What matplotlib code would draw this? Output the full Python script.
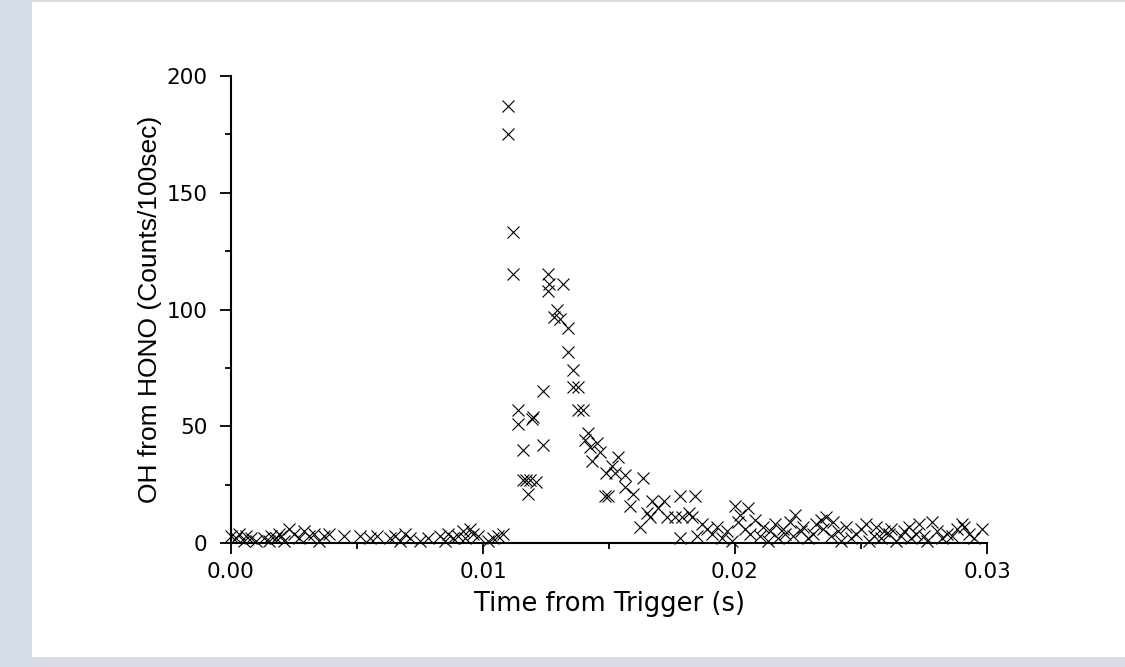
import numpy as np
import matplotlib.pyplot as plt
from matplotlib.patches import Rectangle

# Fondo antes del disparo (t < 0.011 s)
t_base = [0.0000, 0.0002, 0.0003, 0.0005, 0.0006, 0.0008, 0.0010, 0.0013, 0.0015, 0.0016,
          0.0018, 0.0019, 0.0020, 0.0021, 0.0023, 0.0025, 0.0027, 0.0029, 0.0031, 0.0033,
          0.0035, 0.0037, 0.0039, 0.0045, 0.0051, 0.0055, 0.0058, 0.0063, 0.0065, 0.0067,
          0.0069, 0.0071, 0.0075, 0.0078, 0.0083, 0.0085, 0.0086, 0.0088, 0.0090, 0.0092,
          0.0093, 0.0095, 0.0096, 0.0098, 0.0102, 0.0104, 0.0106, 0.0108]
oh_base = [3, 2, 4, 1, 3, 2, 1, 2, 1, 3,
           2, 4, 3, 1, 6, 4, 2, 5, 3, 4,
           1, 3, 4, 3, 3, 2, 3, 2, 3, 1,
           4, 2, 1, 2, 3, 1, 4, 2, 3, 5,
           2, 6, 4, 3, 1, 2, 3, 4]

# Pico y decaimiento
t_peak = [0.01098, 0.01098, 0.01118, 0.01118, 0.01140, 0.01140, 0.01158, 0.01158, 0.01172, 0.01180,
          0.01188, 0.01195, 0.01199, 0.01210, 0.01240, 0.01240, 0.01259, 0.01263, 0.01259, 0.01282,
          0.01295, 0.01306, 0.01319, 0.01339, 0.01339, 0.01358, 0.01358, 0.01378, 0.01378, 0.01395,
          0.01418, 0.01405, 0.01451, 0.01425, 0.01465, 0.01432, 0.01537, 0.01510, 0.01524, 0.01490,
          0.01563, 0.01636, 0.01484, 0.01497, 0.01563, 0.01584, 0.01597, 0.01623, 0.01663, 0.01650,
          0.01670, 0.01696, 0.01720, 0.01782, 0.01842, 0.01730, 0.01762, 0.01790, 0.01818, 0.01780]
oh_peak = [187, 175, 133, 115, 57, 51, 40, 27, 27, 21,
           27, 53, 54, 26, 65, 42, 115, 111, 108, 97,
           100, 96, 111, 92, 82, 74, 67, 67, 57, 57,
           47, 44, 43, 41, 39, 35, 37, 33, 30, 30,
           29, 28, 20, 20, 24, 16, 21, 7, 11, 13,
           18, 15, 18, 20, 20, 11, 11, 11, 13, 2]

# Cola
t_tail = [0.0183, 0.0185, 0.0187, 0.0189, 0.0191, 0.0193, 0.0195, 0.0197, 0.0199, 0.0200,
          0.0201, 0.0202, 0.0204, 0.0205, 0.0206, 0.0208, 0.0210, 0.0211, 0.0213, 0.0214,
          0.0216, 0.0217, 0.0219, 0.0220, 0.0222, 0.0223, 0.0224, 0.0226, 0.0227, 0.0229,
          0.0231, 0.0232, 0.0234, 0.0235, 0.0236, 0.0238, 0.0239, 0.0241, 0.0242, 0.0244,
          0.0246, 0.0248, 0.0250, 0.0252, 0.0253, 0.0255, 0.0256, 0.0258, 0.0259, 0.0261,
          0.0262, 0.0264, 0.0266, 0.0267, 0.0269, 0.0270, 0.0272, 0.0273, 0.0275, 0.0276,
          0.0278, 0.0280, 0.0282, 0.0284, 0.0286, 0.0288, 0.0290, 0.0291, 0.0293, 0.0295,
          0.0298]
oh_tail = [11, 3, 8, 6, 4, 7, 2, 5, 1, 16,
           9, 12, 6, 15, 4, 10, 3, 7, 1, 5,
           8, 2, 6, 4, 9, 3, 12, 5, 7, 2,
           4, 8, 10, 6, 11, 3, 9, 5, 1, 7,
           2, 4, 6, 8, 1, 3, 7, 2, 5, 4,
           6, 1, 3, 5, 7, 2, 4, 8, 3, 1,
           9, 5, 2, 4, 3, 6, 8, 7, 4, 2,
           6]

t = np.array(t_base + t_peak + t_tail)
oh = np.array(oh_base + oh_peak + oh_tail)

fig = plt.figure(figsize=(11.25, 6.67), dpi=100)
fig.patch.set_facecolor('#d6dde6')
fig.patches.append(Rectangle((32 / 1125, 10 / 667), 1 - 32 / 1125, 655 / 667,
                             transform=fig.transFigure, facecolor='white',
                             edgecolor='none', zorder=-1))

ax = fig.add_axes([231 / 1125, 124 / 667, 756 / 1125, 467 / 667])
ax.set_facecolor('none')
ax.plot(t, oh, linestyle='none', marker='x', color='black', markersize=9,
        markeredgewidth=0.8, clip_on=False)

ax.set_xlim(0, 0.03)
ax.set_ylim(0, 200)
ax.set_xticks([0.00, 0.01, 0.02, 0.03])
ax.set_xticklabels(['0.00', '0.01', '0.02', '0.03'])
ax.set_xticks([0.005, 0.015, 0.025], minor=True)
ax.set_yticks([0, 50, 100, 150, 200])
ax.set_yticks([25, 75, 125, 175], minor=True)

for s in ['top', 'right']:
    ax.spines[s].set_visible(False)
for s in ['left', 'bottom']:
    ax.spines[s].set_linewidth(1.5)

ax.tick_params(which='major', direction='out', length=8, width=1.3, labelsize=15.5,
               pad=6)
ax.tick_params(axis='y', which='major', pad=9)
ax.tick_params(which='minor', direction='out', length=4, width=1.3)
for lab in ax.get_xticklabels() + ax.get_yticklabels():
    lab.set_family('DejaVu Sans')

ax.set_xlabel('Time from Trigger (s)', fontsize=18.5, family='DejaVu Sans', labelpad=6)
ax.set_ylabel('OH from HONO (Counts/100sec)', fontsize=19, family='Liberation Sans',
              labelpad=3)

plt.savefig('out.png', dpi=100)
